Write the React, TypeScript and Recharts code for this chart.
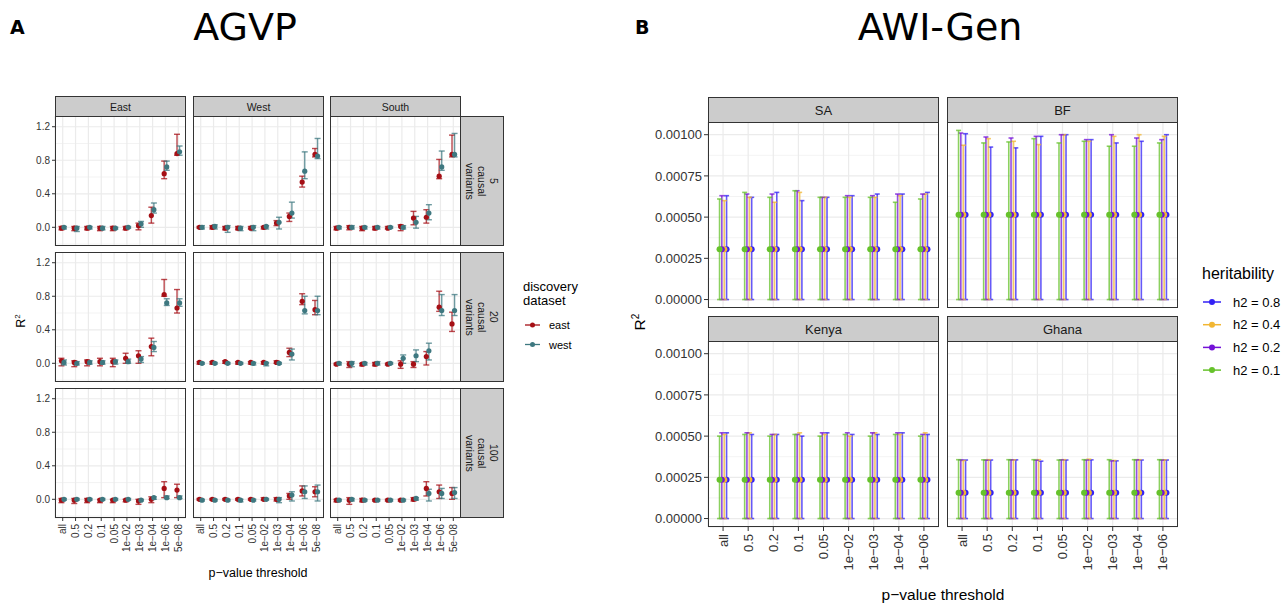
import { ScatterChart, Scatter, XAxis, YAxis, CartesianGrid, ErrorBar, ReferenceLine } from 'recharts'

const FONT = '"Liberation Sans", Arial, Helvetica, sans-serif'
const TITLE_FONT = '"DejaVu Sans", sans-serif'

// ---------- panel A : AGVP ----------
const agvpThresholds = ['all', '0.5', '0.2', '0.1', '0.05', '1e\u221202', '1e\u221203', '1e\u221204', '1e\u221206', '5e\u221208']
const agvpRegions = ['East', 'West', 'South']
const agvpCausal = ['5', '20', '100']
const agvpDatasets = ['east', 'west']
const agvpColors = ['#A50F15', '#3E7880']
const agvpYTicks = [0, 0.4, 0.8, 1.2]
const agvpYMinor = [-0.2, 0.2, 0.6, 1.0]

// [R2, lower, upper] for each threshold
const c5East_east = [[-0.01, -0.03, 0.01], [-0.01, -0.04, 0.01], [-0.01, -0.03, 0.01], [-0.01, -0.04, 0.01], [-0.01, -0.04, 0.01], [-0.01, -0.03, 0.01], [0.02, -0.03, 0.05], [0.14, 0.05, 0.24], [0.64, 0.58, 0.79], [0.88, 0.86, 1.11]]
const c5East_west = [[0.0, -0.02, 0.01], [-0.01, -0.05, 0.01], [0.0, -0.02, 0.01], [-0.01, -0.03, 0.01], [-0.01, -0.02, 0.0], [0.0, -0.01, 0.01], [0.04, 0.0, 0.07], [0.21, 0.17, 0.29], [0.72, 0.68, 0.79], [0.9, 0.86, 0.97]]
const c5West_east = [[0.0, -0.01, 0.01], [0.0, -0.02, 0.02], [-0.01, -0.03, 0.01], [-0.01, -0.03, 0.01], [-0.01, -0.02, 0.01], [0.0, -0.02, 0.01], [0.05, 0.02, 0.08], [0.13, 0.07, 0.17], [0.54, 0.48, 0.61], [0.87, 0.84, 0.94]]
const c5West_west = [[0.0, -0.02, 0.02], [0.01, -0.02, 0.03], [0.0, -0.06, 0.02], [-0.01, -0.04, 0.01], [0.0, -0.04, 0.02], [0.01, -0.02, 0.02], [0.06, -0.02, 0.12], [0.17, 0.11, 0.3], [0.67, 0.58, 0.9], [0.85, 0.82, 1.06]]
const c5South_east = [[-0.01, -0.03, 0.01], [0.0, -0.03, 0.02], [-0.01, -0.04, 0.01], [-0.01, -0.03, 0.01], [-0.01, -0.02, 0.01], [0.01, -0.04, 0.03], [0.11, 0.03, 0.19], [0.12, 0.05, 0.21], [0.61, 0.58, 0.81], [0.87, 0.84, 1.1]]
const c5South_west = [[0.0, -0.02, 0.01], [0.0, -0.02, 0.02], [0.0, -0.02, 0.01], [0.0, -0.02, 0.01], [0.0, -0.01, 0.01], [0.0, -0.02, 0.02], [0.06, -0.01, 0.13], [0.17, 0.09, 0.27], [0.72, 0.68, 0.91], [0.87, 0.84, 1.12]]

const c20East_east = [[0.03, -0.03, 0.06], [0.01, -0.04, 0.03], [0.02, -0.03, 0.04], [0.02, -0.03, 0.06], [0.02, -0.04, 0.06], [0.06, 0.0, 0.12], [0.09, 0.0, 0.15], [0.2, 0.09, 0.3], [0.82, 0.8, 1.0], [0.66, 0.6, 0.88]]
const c20East_west = [[0.01, -0.02, 0.04], [0.0, -0.02, 0.02], [0.01, -0.01, 0.03], [0.01, -0.01, 0.03], [0.02, -0.01, 0.04], [0.02, 0.0, 0.05], [0.05, 0.01, 0.08], [0.19, 0.14, 0.26], [0.72, 0.69, 0.77], [0.72, 0.68, 0.77]]
const c20West_east = [[0.01, -0.01, 0.02], [0.01, -0.01, 0.02], [0.02, 0.0, 0.03], [0.01, -0.01, 0.02], [0.01, -0.01, 0.02], [0.01, -0.01, 0.02], [0.01, 0.0, 0.03], [0.13, 0.08, 0.18], [0.74, 0.7, 0.83], [0.64, 0.58, 0.75]]
const c20West_west = [[0.0, -0.01, 0.01], [0.0, -0.01, 0.01], [0.0, -0.01, 0.01], [0.0, -0.01, 0.01], [0.0, -0.02, 0.01], [0.0, -0.03, 0.01], [0.0, -0.01, 0.01], [0.11, 0.04, 0.17], [0.63, 0.59, 0.8], [0.63, 0.58, 0.8]]
const c20South_east = [[-0.01, -0.02, 0.0], [-0.01, -0.05, 0.02], [-0.01, -0.03, 0.0], [-0.01, -0.03, 0.01], [-0.01, -0.02, 0.0], [-0.01, -0.06, 0.03], [-0.01, -0.05, 0.02], [0.08, -0.02, 0.14], [0.67, 0.62, 0.86], [0.47, 0.38, 0.61]]
const c20South_west = [[0.0, -0.02, 0.01], [0.0, -0.04, 0.02], [0.0, -0.02, 0.01], [0.0, -0.02, 0.02], [0.0, -0.01, 0.01], [0.06, 0.0, 0.1], [0.09, 0.02, 0.16], [0.15, 0.04, 0.24], [0.63, 0.57, 0.82], [0.63, 0.57, 0.82]]

const c100East_east = [[-0.01, -0.04, 0.01], [-0.01, -0.05, 0.01], [-0.01, -0.04, 0.01], [-0.01, -0.04, 0.0], [-0.01, -0.04, 0.0], [-0.01, -0.03, 0.0], [-0.02, -0.06, 0.0], [0.0, -0.04, 0.03], [0.13, 0.02, 0.21], [0.11, 0.02, 0.18]]
const c100East_west = [[0.0, -0.01, 0.01], [0.0, -0.01, 0.01], [0.0, -0.01, 0.01], [0.0, -0.01, 0.01], [0.0, -0.01, 0.01], [0.0, -0.01, 0.01], [-0.01, -0.02, 0.0], [0.02, 0.0, 0.03], [0.02, 0.01, 0.04], [0.02, 0.01, 0.04]]
const c100West_east = [[0.0, -0.01, 0.01], [0.0, -0.01, 0.01], [0.0, -0.01, 0.01], [0.0, -0.01, 0.01], [0.0, -0.01, 0.01], [0.0, -0.01, 0.02], [0.0, -0.02, 0.02], [0.04, 0.0, 0.07], [0.1, 0.04, 0.16], [0.09, 0.03, 0.15]]
const c100West_west = [[-0.01, -0.02, 0.0], [-0.01, -0.02, 0.0], [-0.01, -0.02, 0.0], [-0.01, -0.03, 0.0], [-0.01, -0.02, 0.0], [0.0, -0.01, 0.01], [0.0, -0.04, 0.02], [0.05, -0.02, 0.09], [0.09, 0.01, 0.16], [0.09, -0.02, 0.17]]
const c100South_east = [[-0.01, -0.03, 0.0], [-0.01, -0.06, 0.02], [-0.01, -0.03, 0.01], [-0.01, -0.02, 0.0], [-0.01, -0.02, 0.0], [-0.01, -0.02, 0.0], [0.0, -0.02, 0.02], [0.13, 0.04, 0.21], [0.09, 0.01, 0.17], [0.07, 0.0, 0.14]]
const c100South_west = [[-0.01, -0.02, 0.0], [0.0, -0.02, 0.01], [-0.01, -0.02, 0.0], [-0.01, -0.02, 0.0], [-0.01, -0.02, 0.0], [-0.01, -0.02, 0.0], [0.01, -0.01, 0.02], [0.07, -0.02, 0.12], [0.07, 0.01, 0.13], [0.08, 0.01, 0.14]]

const agvpFacets = [
  [[c5East_east, c5East_west], [c5West_east, c5West_west], [c5South_east, c5South_west]],
  [[c20East_east, c20East_west], [c20West_east, c20West_west], [c20South_east, c20South_west]],
  [[c100East_east, c100East_west], [c100West_east, c100West_west], [c100South_east, c100South_west]],
]

// ---------- panel B : AWI-Gen ----------
const awiThresholds = ['all', '0.5', '0.2', '0.1', '0.05', '1e\u221202', '1e\u221203', '1e\u221204', '1e\u221206']
const awiSites = ['SA', 'BF', 'Kenya', 'Ghana']
const awiMean = [0.000305, 0.000515, 0.000235, 0.000157]
// dodge order, left to right
const awiH2 = ['h2 = 0.1', 'h2 = 0.2', 'h2 = 0.4', 'h2 = 0.8']
const awiColors = ['#66C22B', '#7412D8', '#F2B632', '#3321F5']
const awiYTicks = [0, 0.00025, 0.0005, 0.00075, 0.001]
const awiYMinor = [0.000125, 0.000375, 0.000625, 0.000875]

// upper bound of R2 (lower bound is 0)
const saUpper = [
  [0.00061, 0.00065, 0.00062, 0.00066, 0.00062, 0.00062, 0.00062, 0.00059, 0.00061],
  [0.00063, 0.00064, 0.00064, 0.00066, 0.00062, 0.00063, 0.00063, 0.00064, 0.00064],
  [0.0006, 0.00062, 0.00059, 0.00065, 0.00062, 0.00062, 0.00062, 0.00063, 0.00064],
  [0.00063, 0.00062, 0.00065, 0.0006, 0.00062, 0.00063, 0.00064, 0.00064, 0.00065],
]
const bfUpper = [
  [0.001026, 0.00095, 0.000956, 0.000976, 0.00095, 0.00096, 0.00093, 0.00093, 0.00095],
  [0.00101, 0.000986, 0.00098, 0.00099, 0.001, 0.00097, 0.001, 0.00098, 0.00097],
  [0.000936, 0.000976, 0.00096, 0.00094, 0.001, 0.00096, 0.00099, 0.001, 0.00099],
  [0.001006, 0.000925, 0.00092, 0.00099, 0.001, 0.00097, 0.00095, 0.00096, 0.001],
]
const kenyaUpper = [
  [0.0005, 0.00051, 0.0005, 0.00051, 0.0005, 0.00051, 0.0005, 0.00051, 0.0005],
  [0.00052, 0.00052, 0.00051, 0.00051, 0.00052, 0.00052, 0.00052, 0.00052, 0.00051],
  [0.00051, 0.00052, 0.00051, 0.00052, 0.00051, 0.0005, 0.00052, 0.00051, 0.00052],
  [0.00052, 0.00051, 0.00051, 0.0005, 0.00052, 0.00051, 0.00051, 0.00052, 0.00051],
]
const ghanaUpper = [
  [0.000357, 0.000356, 0.000357, 0.000357, 0.000355, 0.000357, 0.000357, 0.000357, 0.000357],
  [0.000356, 0.000354, 0.000356, 0.000354, 0.000356, 0.000355, 0.00035, 0.000356, 0.000355],
  [0.000352, 0.000357, 0.000356, 0.000357, 0.000357, 0.00036, 0.000352, 0.000357, 0.000356],
  [0.000355, 0.000355, 0.000356, 0.000348, 0.000355, 0.000356, 0.00035, 0.000355, 0.000355],
]
const awiUpper = [saUpper, bfUpper, kenyaUpper, ghanaUpper]

// ---------- layout ----------
const A_X = [55, 193, 330]
const A_Y = [116, 252, 388]
const A_W = 131
const A_H = 130
const B_X = [708, 947]
const B_Y = [122, 341]
const B_W = 231
const B_H = 186
const STRIP = '#CCCCCC'

type Pt = { x: number; y: number; err: number[] }
type Series = { name: string; color: string; data: Pt[] }

const RotTick = (p: any) => (
  <text x={p.x} y={p.y} transform={`rotate(-90, ${p.x}, ${p.y})`} textAnchor="end" dominantBaseline="central"
    fontSize={p.fs} fontFamily={FONT} fill="#333">
    {p.labels[p.payload.value]}
  </text>
)

function Facet(props: {
  x: number; y: number; w: number; h: number; showY: boolean; showX: boolean; yW: number; xH: number
  yDomain: number[]; yTicks: number[]; yMinor: number[]; labels: string[]; series: Series[]
  yFmt: (v: number) => string; fs: number; r: number; cap: number; sw: number; ts: number; tm: number
}) {
  const { x, y, w, h, showY, showX, yW, xH, yDomain, yTicks, yMinor, labels, series, yFmt, fs, r, cap, sw, ts, tm } = props
  const lw = showY ? yW : 0
  const bh = showX ? xH : 0
  return (
    <>
      <div style={{ position: 'absolute', left: x - lw, top: y }}>
        <ScatterChart width={w + lw} height={h + bh} margin={{ top: 0, right: 0, bottom: 0, left: 0 }}>
          <CartesianGrid stroke="#EBEBEB" strokeWidth={1.2} fill="#fff" />
          {yMinor.map((v) => (
            <ReferenceLine key={v} y={v} stroke="#EBEBEB" strokeWidth={0.6} />
          ))}
          <XAxis type="number" dataKey="x" domain={[-0.6, labels.length - 0.4]} ticks={labels.map((_, i) => i)}
            interval={0} hide={!showX} height={xH} allowDataOverflow axisLine={false}
            tickLine={{ stroke: '#333' }} tickSize={ts} tickMargin={tm + 1}
            tick={(p: any) => <RotTick {...p} labels={labels} fs={fs} />} />
          <YAxis type="number" dataKey="y" domain={yDomain} ticks={yTicks} interval={0} hide={!showY} width={yW}
            allowDataOverflow axisLine={false} tickLine={{ stroke: '#333' }} tickSize={ts} tickMargin={tm}
            tickFormatter={yFmt} tick={{ fill: '#333', fontSize: fs, fontFamily: FONT }} />
          {series.map((s) => (
            <Scatter key={s.name} name={s.name} data={s.data} isAnimationActive={false}
              shape={(p: any) => <circle cx={p.cx} cy={p.cy} r={r} fill={s.color} />}>
              <ErrorBar dataKey="err" direction="y" width={cap} stroke={s.color} strokeWidth={sw} strokeOpacity={0.75} />
            </Scatter>
          ))}
        </ScatterChart>
      </div>
      <div style={{ position: 'absolute', left: x, top: y, width: w, height: h, border: '1px solid #333', boxSizing: 'border-box', pointerEvents: 'none' }} />
    </>
  )
}

const stripStyle = (left: number, top: number, width: number, height: number, fs: number) => ({
  position: 'absolute' as const, left, top, width, height, background: STRIP, border: '1px solid #333',
  boxSizing: 'border-box' as const, display: 'flex', alignItems: 'center', justifyContent: 'center',
  fontSize: fs, color: '#1A1A1A', fontFamily: FONT,
})

export default function App() {
  const agvpOffsets = [-0.1, 0.1]
  const awiOffsets = [-0.14, -0.05, 0.05, 0.14]

  return (
    <div style={{ position: 'absolute', left: 0, top: 0, width: 1288, height: 607, background: '#fff', overflow: 'hidden', fontFamily: FONT }}>
      {/* titles */}
      <div style={{ position: 'absolute', left: 10, top: 16, fontFamily: TITLE_FONT, fontWeight: 'bold', fontSize: 19 }}>A</div>
      <div style={{ position: 'absolute', left: 150, width: 190, top: 5, textAlign: 'center', fontFamily: TITLE_FONT, fontSize: 38 }}>AGVP</div>
      <div style={{ position: 'absolute', left: 635, top: 16, fontFamily: TITLE_FONT, fontWeight: 'bold', fontSize: 19 }}>B</div>
      <div style={{ position: 'absolute', left: 820, width: 240, top: 5, textAlign: 'center', fontFamily: TITLE_FONT, fontSize: 38 }}>AWI-Gen</div>

      {/* panel A facets */}
      {agvpFacets.map((row, ri) =>
        row.map((cell, ci) => (
          <Facet key={`a${ri}${ci}`} x={A_X[ci]} y={A_Y[ri]} w={A_W} h={A_H} showY={ci === 0} showX={ri === 2}
            yW={30} xH={48} yDomain={[-0.223, 1.328]} yTicks={agvpYTicks} yMinor={agvpYMinor} labels={agvpThresholds}
            yFmt={(v) => v.toFixed(1)} fs={10} r={2.6} cap={3} sw={1.4} ts={3} tm={2}
            series={cell.map((rows, si) => ({
              name: agvpDatasets[si], color: agvpColors[si],
              data: rows.map(([m, lo, hi], i) => ({ x: i + agvpOffsets[si], y: m, err: [m - lo, hi - m] })),
            }))} />
        ))
      )}
      {agvpRegions.map((name, ci) => (
        <div key={name} style={stripStyle(A_X[ci], 96, A_W, 21, 10.5)}>{name}</div>
      ))}
      {agvpCausal.map((n, ri) => (
        <div key={n} style={stripStyle(460, A_Y[ri], 44, A_H, 10.5)}>
          <div style={{ writingMode: 'vertical-rl', whiteSpace: 'pre', textAlign: 'center', lineHeight: '12px' }}>
            {`${n}\ncausal\nvariants`}
          </div>
        </div>
      ))}
      <div style={{ position: 'absolute', left: 8, top: 311, width: 30, height: 20, transform: 'rotate(-90deg)', textAlign: 'center', fontSize: 12.5, color: '#000' }}>
        R<sup style={{ fontSize: 8 }}>2</sup>
      </div>
      <div style={{ position: 'absolute', left: 158, width: 200, top: 566, textAlign: 'center', fontSize: 12.5, color: '#000' }}>
        p{'\u2212'}value threshold
      </div>
      {/* legend A */}
      <div style={{ position: 'absolute', left: 523, top: 280, fontSize: 13, lineHeight: '14px', color: '#000' }}>
        discovery<br />dataset
      </div>
      <svg style={{ position: 'absolute', left: 520, top: 312 }} width={60} height={40}>
        {agvpDatasets.map((d, i) => (
          <g key={d}>
            <line x1={5} x2={20} y1={13 + i * 19.5} y2={13 + i * 19.5} stroke={agvpColors[i]} strokeWidth={1.3} />
            <circle cx={12.5} cy={13 + i * 19.5} r={2.5} fill={agvpColors[i]} />
            <text x={29} y={13 + i * 19.5} dominantBaseline="central" fontSize={11} fontFamily={FONT} fill="#000">{d}</text>
          </g>
        ))}
      </svg>

      {/* panel B facets */}
      {awiSites.map((site, k) => {
        const ri = Math.floor(k / 2)
        const ci = k % 2
        return (
          <Facet key={site} x={B_X[ci]} y={B_Y[ri]} w={B_W} h={B_H} showY={ci === 0} showX={ri === 1}
            yW={60} xH={60} yDomain={[-0.0000513, 0.001077]} yTicks={awiYTicks} yMinor={awiYMinor} labels={awiThresholds}
            yFmt={(v) => v.toFixed(5)} fs={13} r={3} cap={2.5} sw={1.6} ts={4} tm={2}
            series={awiUpper[k].map((ups, si) => ({
              name: awiH2[si], color: awiColors[si],
              data: ups.map((u, i) => ({ x: i + awiOffsets[si], y: awiMean[k], err: [awiMean[k], u - awiMean[k]] })),
            })).reverse()} />
        )
      })}
      {awiSites.map((site, k) => (
        <div key={`s${site}`} style={stripStyle(B_X[k % 2], B_Y[Math.floor(k / 2)] - 25, B_W, 26, 13)}>{site}</div>
      ))}
      <div style={{ position: 'absolute', left: 627, top: 310, width: 30, height: 24, transform: 'rotate(-90deg)', textAlign: 'center', fontSize: 15.5, color: '#000' }}>
        R<sup style={{ fontSize: 10 }}>2</sup>
      </div>
      <div style={{ position: 'absolute', left: 843, width: 200, top: 586, textAlign: 'center', fontSize: 15.5, color: '#000' }}>
        p{'\u2212'}value threshold
      </div>
      {/* legend B */}
      <div style={{ position: 'absolute', left: 1202, top: 265, fontSize: 16, color: '#000' }}>heritability</div>
      <svg style={{ position: 'absolute', left: 1198, top: 290 }} width={90} height={92}>
        {[...awiH2].reverse().map((h, j) => {
          const c = awiColors[awiH2.length - 1 - j]
          const yy = 12 + j * 22.7
          return (
            <g key={h}>
              <line x1={5} x2={23} y1={yy} y2={yy} stroke={c} strokeWidth={1.5} />
              <circle cx={14} cy={yy} r={3} fill={c} />
              <text x={35} y={yy} dominantBaseline="central" fontSize={13} fontFamily={FONT} fill="#000">{h}</text>
            </g>
          )
        })}
      </svg>
    </div>
  )
}
